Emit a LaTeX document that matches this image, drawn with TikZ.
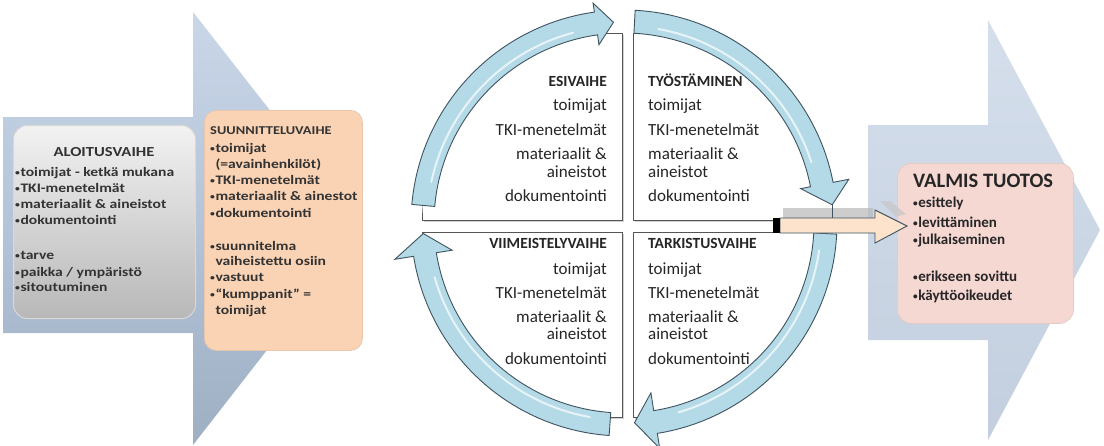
\documentclass[tikz,border=0pt]{standalone}
\usepackage{fontspec}
\usepackage{graphicx}
\setmainfont{Carlito}
\newfontfamily\widefont{Carlito}[FakeStretch=1.2]
\newcommand\bul{\raisebox{0.12ex}{\scalebox{0.62}{•}}\kern0.5pt}
\newcommand\nobul{\phantom{\bul}}
\definecolor{bigA}{HTML}{CAD7E9}
\definecolor{bigB}{HTML}{9EAFC4}
\definecolor{bigC}{HTML}{D5DFEC}
\definecolor{greyTop}{HTML}{F2F2F2}
\definecolor{greyBot}{HTML}{B8B8B8}
\definecolor{peach}{HTML}{FAD3B4}
\definecolor{ringfill}{HTML}{B3DAE6}
\definecolor{ringline}{HTML}{3F5360}
\definecolor{cream}{HTML}{FDE3CB}
\definecolor{pinkbox}{HTML}{F6D8D3}
\definecolor{txt}{HTML}{262626}
\definecolor{ltxt}{HTML}{333333}
\definecolor{qline}{HTML}{555555}
\begin{document}
\begin{tikzpicture}[x=1pt,y=-1pt,
  qtitle/.style={font=\fontsize{15.5}{18}\selectfont\bfseries, inner sep=0, text=txt},
  qtext/.style={font=\fontsize{17}{20}\selectfont, inner sep=0, text=txt},
  ltext/.style={font=\widefont\fontsize{13}{16}\selectfont\bfseries, inner sep=0, anchor=base west, text=ltxt},
  rtext/.style={font=\fontsize{15}{18}\selectfont\bfseries, inner sep=0, anchor=base west, text=txt},
  qbox/.style={draw=qline, line width=1.1pt, fill=white, inner sep=0, anchor=north west},
  ringarrow/.style={fill=ringfill, draw=ringline, line width=0.9pt},
  highlight/.style={white, line width=2pt, opacity=0.7, line cap=round},
]
\useasboundingbox (0,0) rectangle (1104,445);
\fill[white] (0,0) rectangle (1104,445);

% big background arrows
\shade[top color=bigA, bottom color=bigB] (3,117) -- (193,117) -- (193,12) -- (362,228) -- (193,445) -- (193,333) -- (3,333) -- cycle;
\shade[top color=bigC, bottom color=bigA!90!gray] (868,125) -- (988,125) -- (988,20) -- (1100,230) -- (988,440) -- (988,340) -- (868,340) -- cycle;

% left boxes
\node[draw=white!85!black, line width=1pt, rounded corners=14pt, top color=greyTop, bottom color=greyBot,
      minimum width=182pt, minimum height=193pt, anchor=north west, inner sep=0] (alo) at (13,125) {};
\node[draw=peach!85!gray, line width=0.8pt, rounded corners=12pt, fill=peach,
      minimum width=158pt, minimum height=240pt, anchor=north west, inner sep=0] (suu) at (204,110) {};

\node[font=\widefont\fontsize{13.8}{16}\selectfont\bfseries, inner sep=0, text=ltxt, anchor=base] (alo0) at (104,156) {ALOITUSVAIHE};
\node[ltext] (alo1) at (15,176) {\bul toimijat - ketkä mukana};
\node[ltext] (alo2) at (15,192) {\bul TKI-menetelmät};
\node[ltext] (alo3) at (15,208) {\bul materiaalit \& aineistot};
\node[ltext] (alo4) at (15,224) {\bul dokumentointi};
\node[ltext] (alo5) at (15,259) {\bul tarve};
\node[ltext] (alo6) at (15,276) {\bul paikka / ympäristö};
\node[ltext] (alo7) at (15,291) {\bul sitoutuminen};

\node[font=\widefont\fontsize{12}{14}\selectfont\bfseries, inner sep=0, text=ltxt, anchor=base west] (suu0) at (210,134) {SUUNNITTELUVAIHE};
\node[ltext] (suu1) at (210,152) {\bul toimijat};
\node[ltext] (suu2) at (210,168) {\nobul(=avainhenkilöt)};
\node[ltext] (suu3) at (210,184) {\bul TKI-menetelmät};
\node[ltext] (suu4) at (210,200) {\bul materiaalit \& ainestot};
\node[ltext] (suu5) at (210,217) {\bul dokumentointi};
\node[ltext] (suu6) at (210,250) {\bul suunnitelma};
\node[ltext] (suu7) at (210,265) {\nobul vaiheistettu osiin};
\node[ltext] (suu8) at (210,281) {\bul vastuut};
\node[ltext] (suu9) at (210,298) {\bul “kumppanit” =};
\node[ltext] (suu10) at (210,314) {\nobul toimijat};

% quadrant boxes, hidden outside the ring
\begin{scope}
\clip (624,223) circle [radius=202];
\fill[gray!35] (424,35) rectangle (624,222);
\fill[gray!35] (635,35) rectangle (834,222);
\fill[gray!35] (424,234) rectangle (624,419);
\fill[gray!35] (635,234) rectangle (834,419);
\node[qbox, minimum width=200pt, minimum height=187pt] (ul) at (422,33) {};
\node[qbox, minimum width=199pt, minimum height=187pt] (ur) at (633,33) {};
\node[qbox, minimum width=200pt, minimum height=185pt] (ll) at (422,232) {};
\node[qbox, minimum width=199pt, minimum height=185pt] (lr) at (633,232) {};
\end{scope}

% quadrant texts
\node[qtitle, anchor=base east] (ul0) at (607,86) {ESIVAIHE};
\node[qtext, anchor=base east] (ul1) at (607,110) {toimijat};
\node[qtext, anchor=base east] (ul2) at (607,135) {TKI-menetelmät};
\node[qtext, anchor=base east] (ul3) at (607,159) {materiaalit \&};
\node[qtext, anchor=base east] (ul4) at (607,177) {aineistot};
\node[qtext, anchor=base east] (ul5) at (607,201) {dokumentointi};

\node[qtitle, anchor=base west] (ur0) at (648,86) {TYÖSTÄMINEN};
\node[qtext, anchor=base west] (ur1) at (648,110) {toimijat};
\node[qtext, anchor=base west] (ur2) at (648,135) {TKI-menetelmät};
\node[qtext, anchor=base west] (ur3) at (648,159) {materiaalit \&};
\node[qtext, anchor=base west] (ur4) at (648,177) {aineistot};
\node[qtext, anchor=base west] (ur5) at (648,201) {dokumentointi};

\node[qtitle, anchor=base east] (ll0) at (607,248) {VIIMEISTELYVAIHE};
\node[qtext, anchor=base east] (ll1) at (607,274) {toimijat};
\node[qtext, anchor=base east] (ll2) at (607,298) {TKI-menetelmät};
\node[qtext, anchor=base east] (ll3) at (607,322) {materiaalit \&};
\node[qtext, anchor=base east] (ll4) at (607,339) {aineistot};
\node[qtext, anchor=base east] (ll5) at (607,364) {dokumentointi};

\node[qtitle, anchor=base west] (lr0) at (648,248) {TARKISTUSVAIHE};
\node[qtext, anchor=base west] (lr1) at (648,274) {toimijat};
\node[qtext, anchor=base west] (lr2) at (648,298) {TKI-menetelmät};
\node[qtext, anchor=base west] (lr3) at (648,322) {materiaalit \&};
\node[qtext, anchor=base west] (lr4) at (648,339) {aineistot};
\node[qtext, anchor=base west] (lr5) at (648,364) {dokumentointi};

% cycle arrows (centre 624,223)
\begin{scope}[shift={(624,223)}]
\filldraw[ringarrow]
  plot[domain=185:262, samples=60] ({213*cos(\x)},{213*sin(\x)})
  -- (262:222) -- (267:201) -- (262:180) -- (262:190)
  -- plot[domain=262:185, samples=60] ({190*cos(\x)},{190*sin(\x)}) -- cycle;
\draw[highlight] plot[domain=192:255, samples=50] ({197*cos(\x)},{197*sin(\x)});

\filldraw[ringarrow]
  plot[domain=273:349, samples=60] ({213*cos(\x)},{213*sin(\x)})
  -- (349:229) -- (355:209) coordinate (btip) -- (349:180) -- (349:190)
  -- plot[domain=349:273, samples=60] ({190*cos(\x)},{190*sin(\x)}) -- cycle;
\draw[highlight] plot[domain=280:342, samples=50] ({197*cos(\x)},{197*sin(\x)});

\filldraw[ringarrow]
  plot[domain=3:81, samples=60] ({213*cos(\x)},{213*sin(\x)})
  -- (81:228) -- (87:200) -- (81:172) -- (81:190)
  -- plot[domain=81:3, samples=60] ({190*cos(\x)},{190*sin(\x)}) -- cycle;
\draw[highlight] plot[domain=8:74, samples=50] ({197*cos(\x)},{197*sin(\x)});

\filldraw[ringarrow]
  plot[domain=94:171, samples=60] ({213*cos(\x)},{213*sin(\x)})
  -- (171:232) -- (177:201) -- (171:174) -- (171:190)
  -- plot[domain=171:94, samples=60] ({190*cos(\x)},{190*sin(\x)}) -- cycle;
\draw[highlight] plot[domain=100:164, samples=50] ({197*cos(\x)},{197*sin(\x)});
\end{scope}

% right box
\node[draw=pinkbox!85!gray, line width=0.8pt, rounded corners=14pt, fill=pinkbox,
      minimum width=176pt, minimum height=160pt, anchor=north west, inner sep=0] (val) at (897,163) {};
\node[font=\fontsize{20.5}{24}\selectfont\bfseries, text=txt, inner sep=0, anchor=base west] (val0) at (913,187) {VALMIS TUOTOS};
\node[rtext] (val1) at (913,207) {\bul esittely};
\node[rtext] (val2) at (913,227) {\bul levittäminen};
\node[rtext] (val3) at (913,244) {\bul julkaiseminen};
\node[rtext] (val4) at (913,281) {\bul erikseen sovittu};
\node[rtext] (val5) at (913,300) {\bul käyttöoikeudet};

% horizontal arrow
\fill[gray!55, opacity=0.7] (783,208) rectangle (873,218);
\fill[gray!45, opacity=0.7] (880,201) -- (890,201) -- (906,214) -- (896,217) -- cycle;
\coordinate (hstart) at (780,226);
\coordinate (htip) at (907,226);
\filldraw[fill=cream, draw=ringline, line width=0.9pt]
  (780,218) -- (875,218) -- (875,210) -- (htip) -- (875,243) -- (875,233) -- (780,233) -- cycle;
\fill[black] (773,218) rectangle (hstart |- 0,233);
\coordinate (bfoot) at (btip |- 0,218);
\draw[ringline, line width=0.6pt] (btip) -- (bfoot);
\end{tikzpicture}
\end{document}
